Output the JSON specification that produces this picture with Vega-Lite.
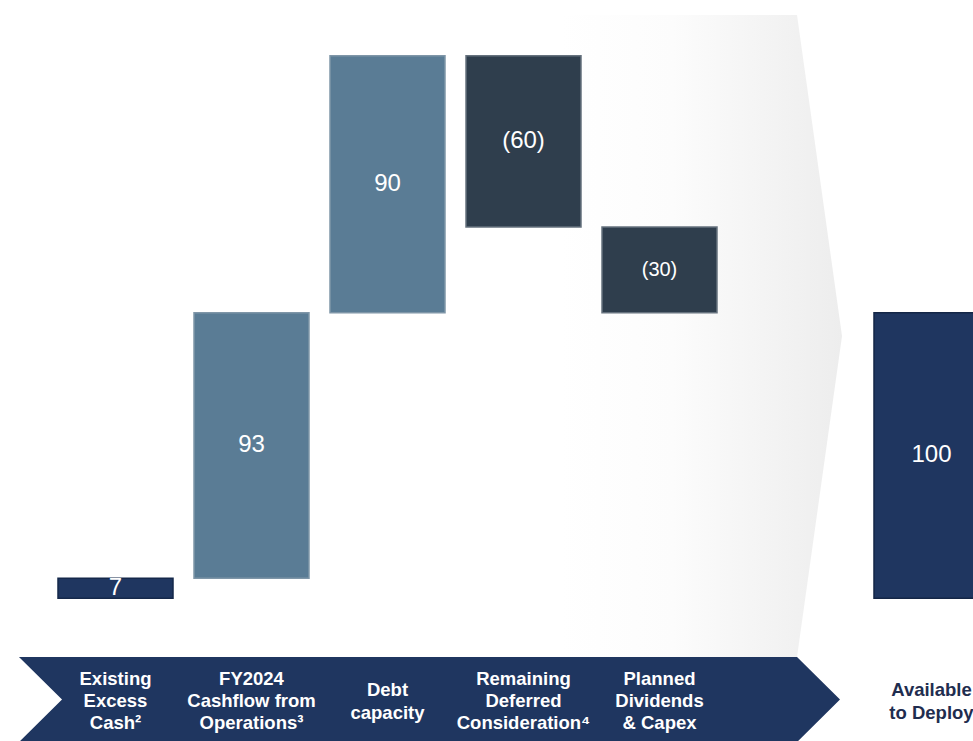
{
  "$schema": "https://vega.github.io/schema/vega-lite/v6.json",
  "width": 973,
  "height": 741,
  "autosize": {"type": "none"},
  "padding": 0,
  "background": "#ffffff",
  "config": {"view": {"stroke": null}, "font": "Liberation Sans"},
  "data": {
    "values": [
      {"cat": "Existing Excess Cash", "lines": "Existing|Excess|Cash²", "start": 0, "end": 7, "label": "7", "type": "base"},
      {"cat": "FY2024 Cashflow from Operations", "lines": "FY2024|Cashflow from|Operations³", "start": 7, "end": 100, "label": "93", "type": "increase"},
      {"cat": "Debt capacity", "lines": "Debt|capacity", "start": 100, "end": 190, "label": "90", "type": "increase"},
      {"cat": "Remaining Deferred Consideration", "lines": "Remaining|Deferred|Consideration⁴", "start": 190, "end": 130, "label": "(60)", "type": "decrease"},
      {"cat": "Planned Dividends & Capex", "lines": "Planned|Dividends|& Capex", "start": 130, "end": 100, "label": "(30)", "type": "decrease"},
      {"cat": "Available to Deploy", "lines": "Available|to Deploy", "start": 0, "end": 100, "label": "100", "type": "total"}
    ]
  },
  "layer": [
    {
      "data": {"values": [{"part": "panel"}]},
      "mark": {
        "type": "point",
        "shape": "M-0.7336,-1L0.0047,-1L0.1449,0L0.0047,1L-0.7336,1Z",
        "filled": true,
        "size": 412164,
        "opacity": 1,
        "strokeWidth": 0,
        "clip": true,
        "fill": {"gradient": "linear", "x1": 0, "y1": 0, "x2": 1, "y2": 0, "stops": [{"offset": 0, "color": "#ffffff"}, {"offset": 0.4, "color": "#fcfcfc"}, {"offset": 1, "color": "#ededed"}]}
      },
      "encoding": {
        "x": {"datum": "(gap)", "type": "nominal", "axis": null, "scale": {"domain": ["Existing Excess Cash", "FY2024 Cashflow from Operations", "Debt capacity", "Remaining Deferred Consideration", "Planned Dividends & Capex", "(gap)", "Available to Deploy"], "range": [0, 1047], "paddingInner": 0.1544, "paddingOuter": 0.4265}},
        "y": {"datum": 91.83, "type": "quantitative", "axis": null, "scale": {"domain": [-50, 209.5], "nice": false, "zero": false}}
      }
    },
    {
      "data": {"values": [{"part": "band"}]},
      "mark": {
        "type": "point",
        "shape": "M-0.8144,-0.0939L0.905,-0.0939L1,0L0.905,0.0939L-0.8144,0.0939L-0.7193,0Z",
        "filled": true,
        "size": 819025,
        "opacity": 1,
        "strokeWidth": 0,
        "clip": true,
        "fill": "#1f3660"
      },
      "encoding": {
        "x": {"datum": "Debt capacity", "type": "nominal"},
        "y": {"datum": -35.5, "type": "quantitative"}
      }
    },
    {
      "mark": {"type": "bar", "clip": true, "strokeWidth": 1.5, "opacity": 1},
      "encoding": {
        "x": {"field": "cat", "type": "nominal"},
        "y": {"field": "start", "type": "quantitative"},
        "y2": {"field": "end"},
        "color": {"field": "type", "type": "nominal", "legend": null, "scale": {"domain": ["base", "increase", "decrease", "total"], "range": ["#1f3660", "#5a7c95", "#2f3e4d", "#1f3660"]}},
        "stroke": {"field": "type", "type": "nominal", "legend": null, "scale": {"domain": ["base", "increase", "decrease", "total"], "range": ["#15284a", "#7f96a8", "#66727e", "#142646"]}}
      }
    },
    {
      "transform": [{"calculate": "(datum.start + datum.end) / 2", "as": "mid"}],
      "mark": {"type": "text", "color": "#ffffff", "baseline": "middle", "align": "center", "clip": true},
      "encoding": {
        "x": {"field": "cat", "type": "nominal"},
        "y": {"field": "mid", "type": "quantitative"},
        "text": {"field": "label", "type": "nominal"},
        "size": {"condition": {"test": "datum.label === '(30)'", "value": 20}, "value": 24}
      }
    },
    {
      "transform": [{"filter": "length(split(datum.lines, '|')) === 3"}],
      "mark": {"type": "text", "baseline": "middle", "align": "center", "fontWeight": "bold", "fontSize": 18.5, "lineHeight": 22, "lineBreak": "|", "clip": true},
      "encoding": {
        "x": {"field": "cat", "type": "nominal"},
        "y": {"datum": -28.3, "type": "quantitative"},
        "text": {"field": "lines", "type": "nominal"},
        "color": {"value": "#ffffff"}
      }
    },
    {
      "transform": [{"filter": "length(split(datum.lines, '|')) === 2"}],
      "mark": {"type": "text", "baseline": "middle", "align": "center", "fontWeight": "bold", "fontSize": 18.5, "lineHeight": 23, "lineBreak": "|", "clip": true},
      "encoding": {
        "x": {"field": "cat", "type": "nominal"},
        "y": {"datum": -32.3, "type": "quantitative"},
        "text": {"field": "lines", "type": "nominal"},
        "color": {"condition": {"test": "datum.type === 'total'", "value": "#1f2d4f"}, "value": "#ffffff"}
      }
    }
  ]
}
